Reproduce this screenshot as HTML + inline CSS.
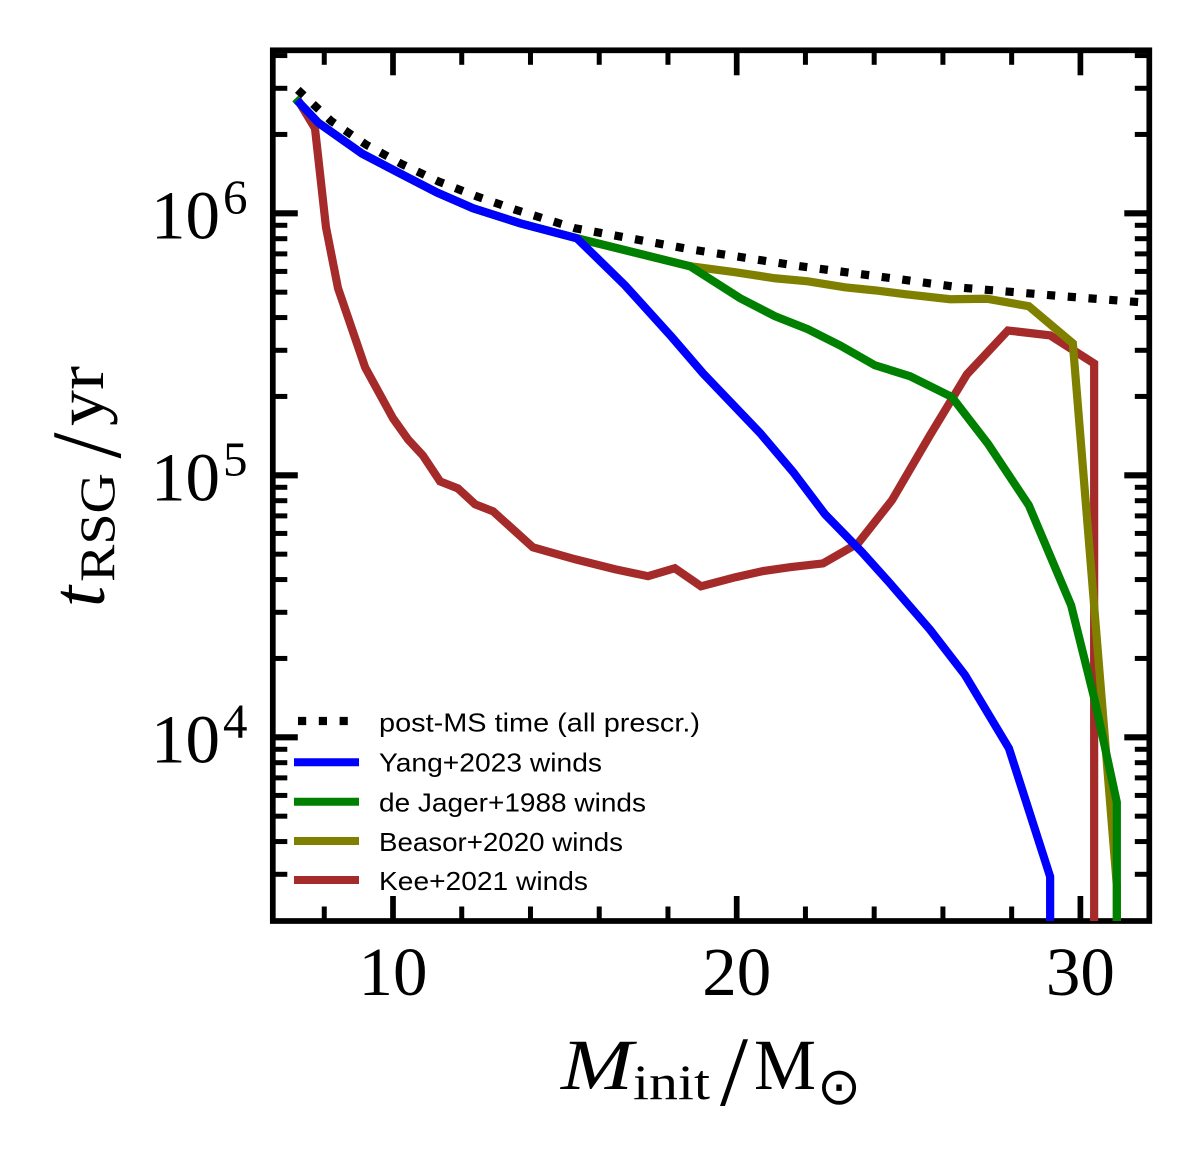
<!DOCTYPE html>
<html lang="en">
<head>
<meta charset="utf-8">
<title>RSG lifetime vs initial mass</title>
<style>
  html, body { margin: 0; padding: 0; background: #fff; }
  svg { display: block; }
  .serif { font-family: "Liberation Serif", serif; fill: #000; }
  .legend-text { font-family: "Liberation Sans", sans-serif; font-size: 26px; fill: #000; }
</style>
</head>
<body>
<svg id="chart" width="1200" height="1158" viewBox="0 0 1200 1158" xmlns="http://www.w3.org/2000/svg">
  <defs>
    <clipPath id="plot-clip"><rect x="272.8" y="50.3" width="876.5" height="870.7"/></clipPath>
  </defs>
  <rect width="1200" height="1158" fill="#fff"/>
  <g id="ticks"></g>
  <rect x="272.8" y="50.3" width="876.5" height="870.7" fill="none" stroke="#000" stroke-width="5.7"/>
  <g id="series" clip-path="url(#plot-clip)"></g>
  <g id="tick-labels"></g>

  <g>
    <text class="serif" transform="translate(104,607) rotate(-90)" font-size="76" font-style="italic">t</text>
    <text class="serif" transform="translate(114,582) rotate(-90)" font-size="50" textLength="109" lengthAdjust="spacingAndGlyphs">RSG</text>
    <text class="serif" transform="translate(120,458.5) rotate(-90)" font-size="100" textLength="26" lengthAdjust="spacingAndGlyphs">/</text>
    <text class="serif" transform="translate(103,426) rotate(-90)" font-size="68" textLength="60" lengthAdjust="spacingAndGlyphs">yr</text>
  </g>

  <g>
    <text class="serif" x="561" y="1089" font-size="72" font-style="italic" textLength="72" lengthAdjust="spacingAndGlyphs">M</text>
    <text class="serif" x="633" y="1099" font-size="50" textLength="77" lengthAdjust="spacingAndGlyphs">init</text>
    <text class="serif" x="720" y="1105" font-size="100" textLength="28" lengthAdjust="spacingAndGlyphs">/</text>
    <text class="serif" x="754" y="1089" font-size="72" textLength="62" lengthAdjust="spacingAndGlyphs">M</text>
    <text x="839" y="1104" text-anchor="middle" font-family="'DejaVu Sans', sans-serif" font-size="52" fill="#000">⊙</text>
  </g>

  <g>
    <g>
      <line x1="298" y1="721" x2="359" y2="721" stroke="#000" stroke-width="8.2" stroke-dasharray="8.2 12.6"/>
      <text class="legend-text" x="379" y="731.5" textLength="321" lengthAdjust="spacingAndGlyphs">post-MS time (all prescr.)</text>
    </g>
    <g>
      <line x1="294" y1="762.3" x2="359" y2="762.3" stroke="#0000ff" stroke-width="8"/>
      <text class="legend-text" x="379" y="771.5" textLength="223" lengthAdjust="spacingAndGlyphs">Yang+2023 winds</text>
    </g>
    <g>
      <line x1="294" y1="801.7" x2="359" y2="801.7" stroke="#008000" stroke-width="8"/>
      <text class="legend-text" x="379" y="811.5" textLength="267" lengthAdjust="spacingAndGlyphs">de Jager+1988 winds</text>
    </g>
    <g>
      <line x1="294" y1="841" x2="359" y2="841" stroke="#808000" stroke-width="8"/>
      <text class="legend-text" x="379" y="851" textLength="244" lengthAdjust="spacingAndGlyphs">Beasor+2020 winds</text>
    </g>
    <g>
      <line x1="294" y1="880" x2="359" y2="880" stroke="#a52a2a" stroke-width="8"/>
      <text class="legend-text" x="379" y="890" textLength="209" lengthAdjust="spacingAndGlyphs">Kee+2021 winds</text>
    </g>
  </g>
</svg>

<script>
// Tick values and labels
const xMajorTicks = [10, 20, 30];
const xMinorTicks = [8, 12, 14, 16, 18, 22, 24, 26, 28];
const xTickLabels = ["10", "20", "30"];
const yMajorTicks = [1e6, 1e5, 1e4];
const yMinorTicks = [4e6, 3e6, 2e6, 9e5, 8e5, 7e5, 6e5, 5e5, 4e5, 3e5, 2e5, 9e4, 8e4, 7e4, 6e4, 5e4, 4e4, 3e4, 2e4, 9e3, 8e3, 7e3, 6e3, 5e3, 4e3, 3e3];
const yTickBases = ["10", "10", "10"];
const yTickExponents = ["6", "5", "4"];

// Post-MS time
const postMsMass = [7.23, 8.2, 9.21, 10.26, 11.34, 12.44, 13.58, 15.3, 18.64, 21.84, 24.75, 26.55, 29.52, 32];
const postMsTime = [2.96e6, 2.25e6, 1.83e6, 1.54e6, 1.32e6, 1.16e6, 1.03e6, 8.77e5, 7.29e5, 6.28e5, 5.6e5, 5.2e5, 4.82e5, 4.55e5];

// Yang+2023
const yangMass = [7.29, 7.82, 9.10, 10.20, 11.28, 12.33, 13.70, 15.35, 16.75, 18.12, 19.02, 20.68, 21.64, 22.57, 23.65, 24.46, 25.62, 26.64, 27.92, 29.12, 29.12];
const yangTime = [2.63e6, 2.22e6, 1.69e6, 1.42e6, 1.20e6, 1.045e6, 9.16e5, 8.03e5, 5.31e5, 3.36e5, 2.45e5, 1.45e5, 1.03e5, 7.10e4, 5.08e4, 3.87e4, 2.58e4, 1.73e4, 9.08e3, 2.94e3, 1.5e3];

// de Jager+1988
const deJagerMass = [7.24, 7.82, 9.10, 10.20, 11.28, 12.33, 13.70, 15.35, 18.64, 20.10, 21.11, 22.07, 23.01, 24.02, 25.04, 26.26, 27.31, 28.50, 29.73, 30.42, 31.06, 31.06];
const deJagerTime = [2.67e6, 2.22e6, 1.69e6, 1.42e6, 1.20e6, 1.045e6, 9.16e5, 8.03e5, 6.28e5, 4.74e5, 4.05e5, 3.61e5, 3.13e5, 2.63e5, 2.39e5, 1.99e5, 1.32e5, 7.68e4, 3.19e4, 1.38e4, 5.65e3, 1.5e3];

// Beasor+2020
const beasorMass = [7.24, 7.82, 9.10, 10.20, 11.28, 12.33, 13.70, 15.35, 18.64, 19.95, 21.11, 22.07, 23.15, 24.02, 24.90, 26.21, 27.28, 28.50, 29.78, 31.06, 31.06];
const beasorTime = [2.67e6, 2.22e6, 1.69e6, 1.42e6, 1.20e6, 1.045e6, 9.16e5, 8.03e5, 6.28e5, 5.96e5, 5.65e5, 5.50e5, 5.22e5, 5.08e5, 4.91e5, 4.70e5, 4.72e5, 4.42e5, 3.19e5, 2.72e3, 1.5e3];

// Kee+2021
const keeMass = [7.29, 7.73, 8.05, 8.40, 9.19, 10.00, 10.44, 10.87, 11.37, 11.89, 12.39, 12.91, 14.07, 15.30, 16.46, 17.42, 18.20, 18.96, 19.95, 20.77, 21.55, 22.51, 23.53, 24.52, 25.62, 26.70, 27.89, 29.12, 30.40, 30.40];
const keeTime = [2.63e6, 2.11e6, 8.85e5, 5.18e5, 2.58e5, 1.65e5, 1.37e5, 1.19e5, 9.48e4, 8.91e4, 7.75e4, 7.29e4, 5.31e4, 4.78e4, 4.38e4, 4.12e4, 4.42e4, 3.77e4, 4.08e4, 4.31e4, 4.46e4, 4.61e4, 5.50e4, 8.04e4, 1.42e5, 2.43e5, 3.57e5, 3.42e5, 2.67e5, 1.5e3];

const NS = "http://www.w3.org/2000/svg";
const plot = { left: 272.8, right: 1149.3, top: 50.3, bottom: 921 };
const xScale = m => 393 + 34.37 * (m - 10);
const yScale = t => 213.3 + 262 * (6 - Math.log10(t));

const ticksGroup = document.getElementById("ticks");
const seriesGroup = document.getElementById("series");
const labelsGroup = document.getElementById("tick-labels");

function tickLine(x1, y1, x2, y2, width) {
  const el = document.createElementNS(NS, "line");
  el.setAttribute("x1", x1);
  el.setAttribute("y1", y1);
  el.setAttribute("x2", x2);
  el.setAttribute("y2", y2);
  el.setAttribute("stroke", "#000");
  el.setAttribute("stroke-width", width);
  ticksGroup.appendChild(el);
  return el;
}

function drawXTick(m, len, width, name) {
  const x = xScale(m);
  const bottomTick = tickLine(x, plot.bottom, x, plot.bottom - len, width);
  
  
  const topTick = tickLine(x, plot.top, x, plot.top + len, width);
  
  
}

function drawYTick(t, len, width, name) {
  const y = yScale(t);
  const leftTick = tickLine(plot.left, y, plot.left + len, y, width);
  
  
  const rightTick = tickLine(plot.right, y, plot.right - len, y, width);
  
  
}

xMajorTicks.forEach(m => drawXTick(m, 25, 5.7, 'x-major-tick'));
xMinorTicks.forEach(m => drawXTick(m, 14.5, 5, 'x-minor-tick'));
yMajorTicks.forEach(t => drawYTick(t, 25, 6.2, 'y-major-tick'));
yMinorTicks.forEach(t => drawYTick(t, 14.5, 5, 'y-minor-tick'));

function drawSeries(masses, times, color, width, name, dash) {
  const el = document.createElementNS(NS, "polyline");
  el.setAttribute("points", masses.map((m, i) => xScale(m).toFixed(2) + "," + yScale(times[i]).toFixed(2)).join(" "));
  el.setAttribute("fill", "none");
  el.setAttribute("stroke", color);
  el.setAttribute("stroke-width", width);
  el.setAttribute("stroke-linejoin", "miter");
  if (dash) {
    el.setAttribute("stroke-dasharray", dash);
    el.setAttribute("stroke-linecap", "butt");
  } else {
    el.setAttribute("stroke-linecap", "square");
  }
  
  
  seriesGroup.appendChild(el);
}

drawSeries(postMsMass, postMsTime, "#000", 8.2, "post-ms-time-line", "8.2 12.6");
drawSeries(keeMass, keeTime, "#a52a2a", 8.2, "kee-2021-line");
drawSeries(beasorMass, beasorTime, "#808000", 8.2, "beasor-2020-line");
drawSeries(deJagerMass, deJagerTime, "#008000", 8.2, "de-jager-1988-line");
drawSeries(yangMass, yangTime, "#0000ff", 8.2, "yang-2023-line");

function label(text, x, y, size, anchor) {
  const el = document.createElementNS(NS, "text");
  el.setAttribute("class", "serif");
  el.setAttribute("x", x);
  el.setAttribute("y", y);
  el.setAttribute("font-size", size);
  el.setAttribute("text-anchor", anchor);
  el.textContent = text;
  labelsGroup.appendChild(el);
  return el;
}

xMajorTicks.forEach((m, i) => {
  const el = label(xTickLabels[i], xScale(m), 995, 69, "middle");
  
  
});

yMajorTicks.forEach((t, i) => {
  const y = yScale(t);
  const base = label(yTickBases[i], 151, y + 25, 69, "start");
  
  
  const exp = label(yTickExponents[i], 223, y, 49, "start");
  
  
});
</script>
</body>
</html>
